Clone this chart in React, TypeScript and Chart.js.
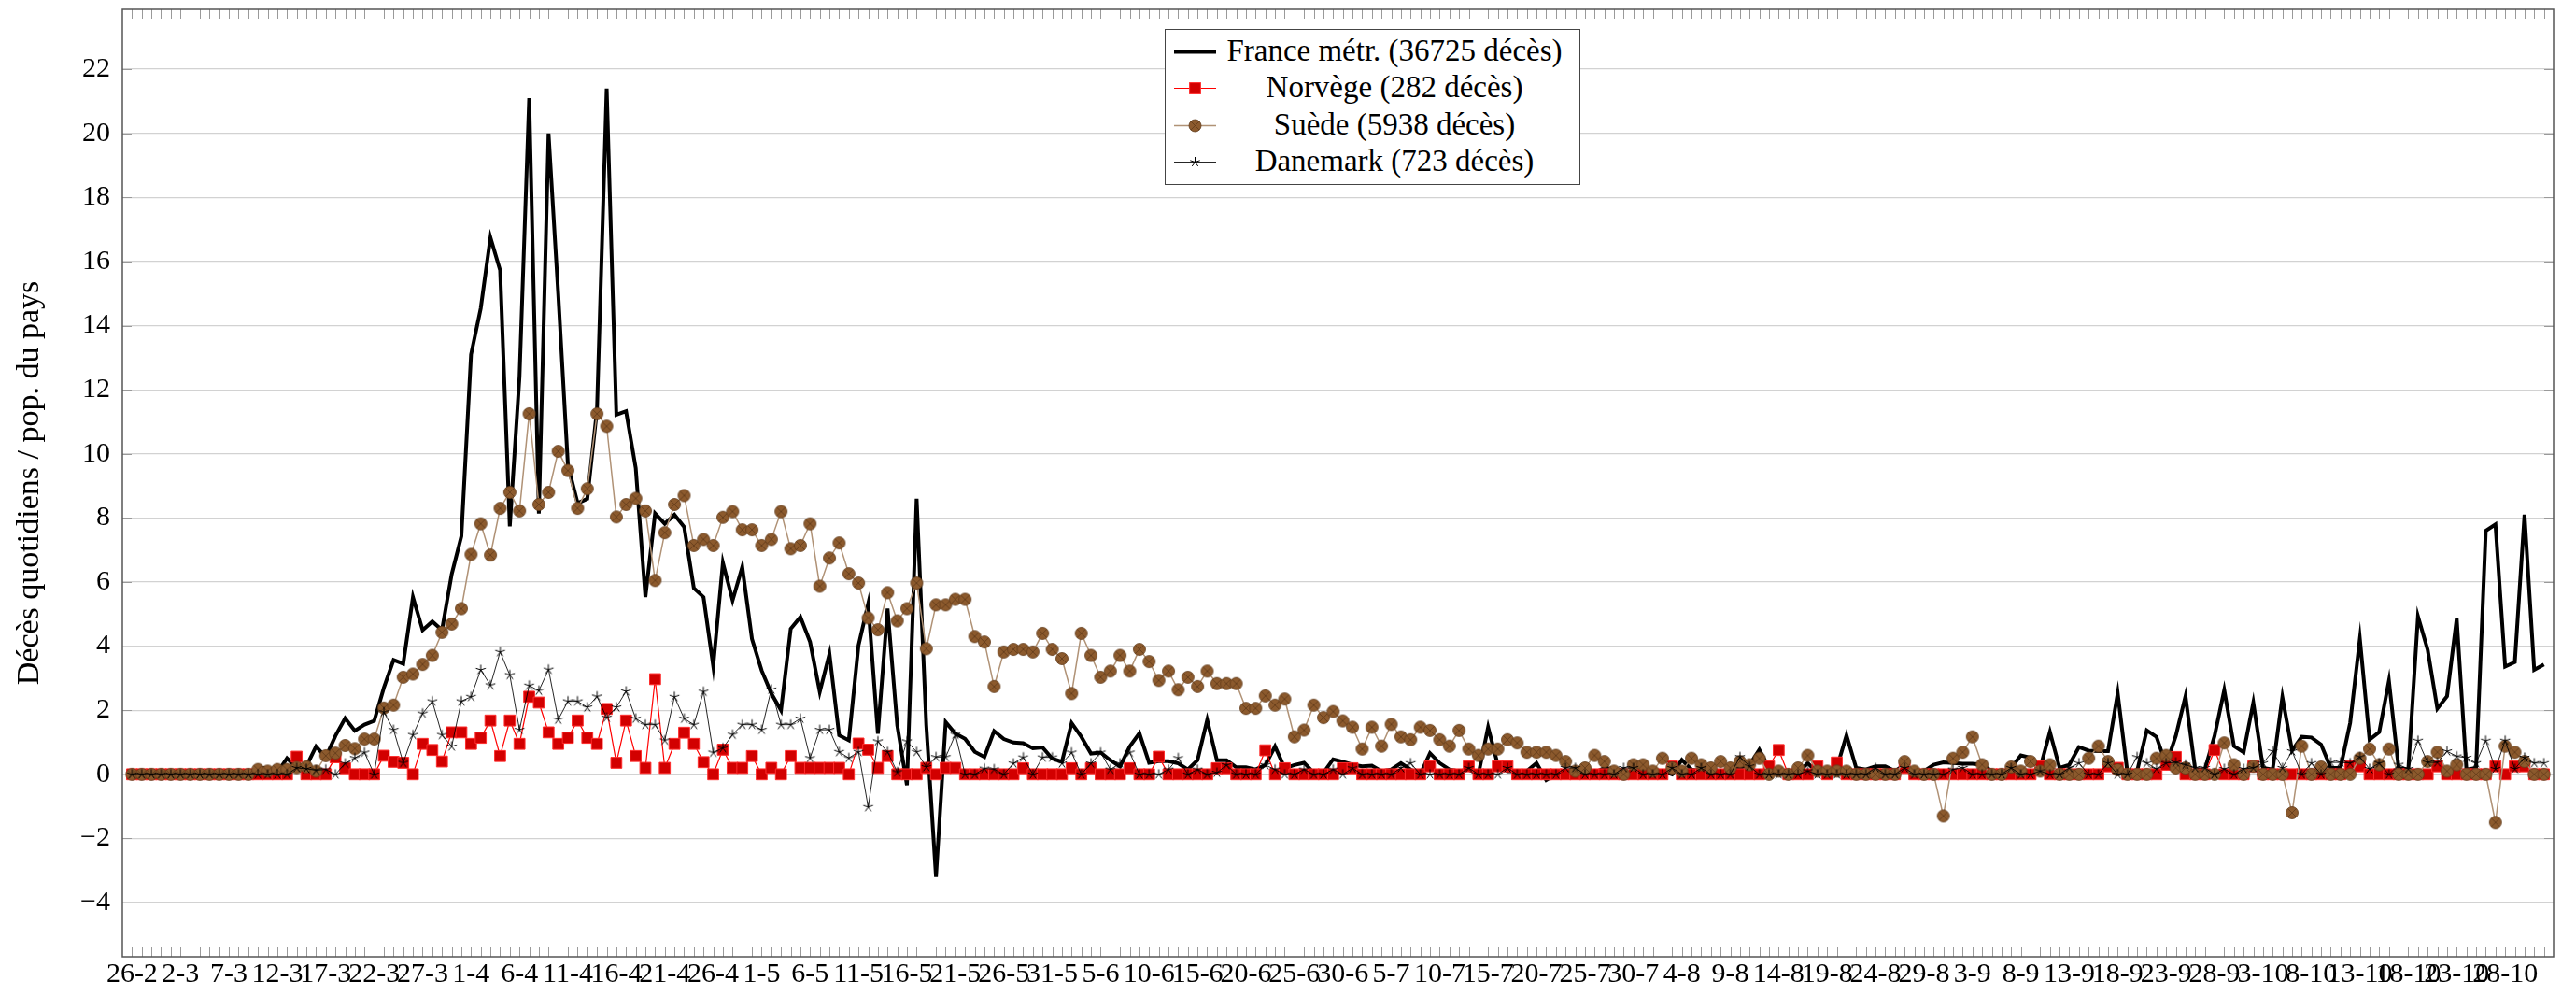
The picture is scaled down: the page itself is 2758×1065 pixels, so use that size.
import React, { useEffect, useRef } from 'react';
import { Chart, registerables } from 'chart.js';

Chart.register(...registerables);

// x tick labels, one every 5 days starting 26-2 (index 0)
const tickLabels = ['26-2','2-3','7-3','12-3','17-3','22-3','27-3','1-4','6-4','11-4','16-4','21-4','26-4','1-5','6-5','11-5','16-5','21-5','26-5','31-5','5-6','10-6','15-6','20-6','25-6','30-6','5-7','10-7','15-7','20-7','25-7','30-7','4-8','9-8','14-8','19-8','24-8','29-8','3-9','8-9','13-9','18-9','23-9','28-9','3-10','8-10','13-10','18-10','23-10','28-10'];

const yTicks = [-4, -2, 0, 2, 4, 6, 8, 10, 12, 14, 16, 18, 20, 22];

const france = [
  0,0,0,0,0,0,0,0,0,0,
  0,0,0,0.2,0.2,0.05,0.5,0.2,0.25,0.87,
  0.53,1.2,1.75,1.36,1.55,1.67,2.7,3.57,3.45,5.53,
  4.5,4.77,4.5,6.24,7.43,13.1,14.54,16.75,15.73,7.74,
  12.4,21.1,8.14,20.0,15.0,9.64,8.46,8.6,11.38,21.4,
  11.22,11.33,9.56,5.53,8.14,7.82,8.1,7.72,5.81,5.53,
  3.38,6.6,5.43,6.47,4.23,3.24,2.52,2.0,4.54,4.91,
  4.13,2.57,3.76,1.22,1.06,4.02,5.32,1.27,5.17,1.53,
  -0.34,8.6,1.53,-3.2,1.63,1.27,1.11,0.7,0.54,1.35,
  1.1,0.99,0.97,0.81,0.84,0.49,0.39,1.6,1.17,0.65,
  0.68,0.44,0.24,0.87,1.28,0.36,0.41,0.41,0.34,0.15,
  0.44,1.7,0.44,0.44,0.22,0.22,0.15,0.29,0.87,0.19,
  0.29,0.36,0.05,0.05,0.47,0.39,0.3,0.25,0.27,0.1,
  0.15,0.35,0.15,0,0.66,0.35,0.15,0.1,0.15,0,
  1.47,0.3,0.1,0.1,0.1,0.35,-0.18,0,0.1,0.15,
  0.1,0.05,0.2,0.2,0.1,0.1,0.15,0.05,0.1,0,
  0.45,0.15,0.1,0.1,0.1,0.1,0.2,0.3,0.77,0.2,
  0.1,0.05,0.05,0.35,0.05,0.1,0.2,1.22,0.2,0.15,
  0.25,0.25,0.1,0.3,0.1,0.1,0.3,0.37,0.35,0.33,
  0.33,0.3,0.1,0.05,0.2,0.59,0.52,0.2,1.32,0.2,
  0.3,0.85,0.74,0.72,0.72,2.53,0.05,0.1,1.37,1.17,
  0.3,1.2,2.44,0.15,0.15,1.2,2.63,0.88,0.69,2.24,
  0.2,0.15,2.41,0.74,1.17,1.15,0.93,0.2,0.2,1.61,
  4.23,1.08,1.32,2.92,0.2,0.15,4.93,3.89,2.05,2.44,
  4.86,0.15,0.2,7.6,7.8,3.36,3.5,8.1,3.26,3.43,
];

const norvege = [
  0,0,0,0,0,0,0,0,0,0,
  0,0,0,0,0,0,0,0.55,0,0,
  0,0.53,0.19,0,0,0,0.58,0.39,0.36,0,
  0.95,0.76,0.4,1.31,1.31,0.95,1.14,1.68,0.57,1.68,
  0.95,2.42,2.24,1.31,0.95,1.14,1.68,1.14,0.95,2.04,
  0.36,1.68,0.57,0.2,2.97,0.2,0.95,1.3,0.95,0.38,
  0,0.77,0.2,0.2,0.57,0,0.2,0,0.57,0.2,
  0.2,0.2,0.2,0.2,0,0.96,0.77,0.2,0.57,0,
  0,0,0.2,0,0.2,0.2,0,0,0,0,
  0,0,0.19,0,0,0,0,0.19,0,0.19,
  0,0,0,0.19,0,0,0.55,0,0,0,
  0,0,0.19,0.19,0,0,0,0.75,0,0.19,
  0,0,0,0,0,0.19,0.19,0,0,0,
  0,0,0,0,0.25,0,0,0,0.25,0,
  0,0.25,0.25,0,0,0,0,0,0,0,
  0,0,0,0,0,0,0,0,0,0.25,
  0,0,0,0,0,0,0,0,0,0.25,
  0.76,0,0,0,0.25,0,0.37,0,0,0,
  0,0,0,0.2,0,0,0,0,0,0,
  0,0,0,0,0,0,0,0.25,0,0,
  0,0,0,0,0.25,0.2,0,0,0,0,
  0.3,0.54,0,0,0,0.76,0,0,0,0.25,
  0,0,0,0,0,0,0,0,0,0.25,
  0.25,0,0,0,0,0,0,0,0.25,0,
  0,0,0,0,0.25,0,0.25,0.25,0,0,
];

const suede = [
  0,0,0,0,0,0,0,0,0,0,
  0,0,0,0.15,0.1,0.15,0.15,0.21,0.24,0.1,
  0.58,0.66,0.9,0.8,1.1,1.1,2.07,2.16,3.03,3.13,
  3.43,3.71,4.43,4.69,5.17,6.86,7.82,6.84,8.3,8.8,
  8.22,11.25,8.42,8.8,10.08,9.48,8.3,8.91,11.25,10.86,
  8.03,8.42,8.61,8.22,6.05,7.54,8.42,8.7,7.14,7.33,
  7.14,8.02,8.2,7.63,7.63,7.14,7.33,8.2,7.04,7.14,
  7.82,5.87,6.75,7.22,6.26,5.97,4.88,4.51,5.67,4.79,
  5.17,5.97,3.92,5.29,5.29,5.46,5.46,4.3,4.13,2.74,
  3.82,3.9,3.9,3.82,4.4,3.9,3.61,2.52,4.4,3.71,
  3.03,3.22,3.71,3.22,3.9,3.52,2.93,3.22,2.64,3.03,
  2.74,3.22,2.83,2.83,2.83,2.06,2.06,2.45,2.16,2.35,
  1.17,1.38,2.16,1.77,1.96,1.67,1.47,0.79,1.47,0.88,
  1.56,1.17,1.08,1.47,1.37,1.08,0.88,1.37,0.79,0.59,
  0.79,0.79,1.08,0.98,0.69,0.69,0.69,0.59,0.4,0.1,
  0.2,0.59,0.4,0.1,0,0.3,0.3,0.1,0.5,0.2,
  0.1,0.5,0.3,0.2,0.4,0.2,0.4,0.3,0.5,0,
  0.1,0,0.2,0.59,0.1,0.1,0.1,0.1,0,0,
  0,0,0,0.4,0.1,0,0,-1.3,0.5,0.69,
  1.17,0.3,0,0,0.23,0.1,0.4,0.1,0.3,0,
  0,0,0.5,0.88,0.4,0.14,0,0,0,0.5,
  0.59,0.2,0.2,0,0,0,0.98,0.3,0,0.25,
  0,0,0,-1.2,0.88,0,0.23,0,0,0,
  0.5,0.79,0.3,0.79,0,0,0,0.4,0.69,0.1,
  0.3,0,0,0,-1.5,0.88,0.69,0.4,0,0,
];

const danemark = [
  0,0,0,0,0,0,0,0,0,0,
  0,0,0,0,0,0,0,0.2,0.17,0.13,
  0.15,0,0.34,0.51,0.68,0,1.94,1.39,0.36,1.23,
  1.9,2.28,1.23,0.87,2.28,2.42,3.26,2.78,3.82,3.1,
  1.39,2.77,2.61,3.27,1.71,2.28,2.28,2.09,2.43,1.77,
  2.09,2.59,1.74,1.55,1.55,1.06,2.42,1.74,1.55,2.58,
  0.68,0.82,1.24,1.55,1.55,1.39,2.65,1.55,1.55,1.74,
  0.51,1.39,1.39,0.7,0.51,0.7,-1.02,1.03,0.7,0.07,
  1.03,0.7,0.23,0.54,0.54,1.24,0,0,0.18,0.16,
  0,0.34,0.53,0,0.53,0.53,0.34,0.68,0,0.34,
  0.68,0.15,0.34,0.68,0,0,0,0.15,0.51,0,
  0.15,0,0.05,0.29,0,0,0,0.29,0.15,0,
  0,0.15,0,0,0.15,0,0.19,0,0,0,
  0,0.2,0.35,0,0,0,0,0,0.2,0,
  0,0,0.2,0,0,0,0,0,0.2,0.2,
  0,0,0,0,0.2,0.2,0,0,0,0.2,
  0,0,0.2,0,0,0,0.54,0.25,0,0,
  0,0,0,0.1,0,0,0,0,0,0,
  0.2,0,0,0.2,0,0,0,0,0.15,0.2,
  0,0,0,0,0.2,0,0,0.1,0,0,
  0.2,0.35,0,0,0.35,0,0,0.54,0.35,0.17,
  0.35,0.37,0.3,0.2,0.2,0,0.17,0,0.17,0.2,
  0.35,0.72,0.2,0.72,0,0.35,0,0.37,0.37,0.35,
  0.54,0.17,0.35,0,0.3,0.17,1.05,0.37,0.37,0.72,
  0.56,0.52,0.35,1.05,0.17,1.05,0.17,0.52,0.35,0.35,
];

const FONT = '"Liberation Serif", "Times New Roman", serif';
const BROWN = 'rgb(140,90,45)';
const BROWN_DARK = 'rgb(95,58,25)';
const TAN = 'rgb(176,146,118)';
const RED_FILL = 'rgb(210,0,0)';
const RED_EDGE = 'rgb(255,45,45)';

function makeOtimes(): HTMLCanvasElement {
  const c = document.createElement('canvas');
  c.width = 16; c.height = 16;
  const g = c.getContext('2d')!;
  const r = 6.5;
  g.beginPath(); g.arc(8, 8, r, 0, Math.PI * 2);
  g.fillStyle = BROWN; g.fill();
  g.lineWidth = 0.8; g.strokeStyle = BROWN_DARK; g.stroke();
  const d = r * 0.7071;
  g.beginPath();
  g.moveTo(8 - d, 8 - d); g.lineTo(8 + d, 8 + d);
  g.moveTo(8 - d, 8 + d); g.lineTo(8 + d, 8 - d);
  g.stroke();
  return c;
}

function makeStar(): HTMLCanvasElement {
  const c = document.createElement('canvas');
  c.width = 14; c.height = 14;
  const g = c.getContext('2d')!;
  g.strokeStyle = '#000'; g.lineWidth = 1;
  g.beginPath();
  for (let k = 0; k < 5; k++) {
    const a = -Math.PI / 2 + (k * 2 * Math.PI) / 5;
    g.moveTo(7, 7);
    g.lineTo(7 + 5.5 * Math.cos(a), 7 + 5.5 * Math.sin(a));
  }
  g.stroke();
  return c;
}

const toXY = (arr: number[]) => arr.map((v, i) => ({ x: i, y: v }));

const framePlugin = {
  id: 'frame',
  afterDraw(chart: any) {
    const { ctx, chartArea, scales } = chart;
    const { left, right, top, bottom } = chartArea;
    const x = scales.x, y = scales.y;
    ctx.save();
    ctx.strokeStyle = '#9a9a9a';
    ctx.lineWidth = 1;
    ctx.beginPath();
    for (let i = 0; i < france.length; i++) {
      const px = Math.round(x.getPixelForValue(i)) + 0.5;
      ctx.moveTo(px, bottom); ctx.lineTo(px, bottom - 10);
      ctx.moveTo(px, top); ctx.lineTo(px, top + 10);
    }
    for (const v of yTicks) {
      const py = Math.round(y.getPixelForValue(v)) + 0.5;
      ctx.moveTo(left, py); ctx.lineTo(left + 10, py);
      ctx.moveTo(right, py); ctx.lineTo(right - 10, py);
    }
    ctx.stroke();
    ctx.strokeStyle = '#555';
    ctx.lineWidth = 1.5;
    ctx.strokeRect(left, top, right - left, bottom - top);
    ctx.restore();
  },
};

function LegendRow({ top, label, kind }: { top: number; label: string; kind: string }) {
  const cy = 21.5;
  let sym: React.ReactNode = null;
  if (kind === 'fr') {
    sym = <line x1={0} y1={cy} x2={45} y2={cy} stroke="#000" strokeWidth={4} />;
  } else if (kind === 'no') {
    sym = (
      <g>
        <line x1={0} y1={cy} x2={45} y2={cy} stroke="#ff0000" strokeWidth={1.2} />
        <rect x={22.5 - 5.9} y={cy - 5.9} width={11.8} height={11.8} fill={RED_FILL} stroke={RED_EDGE} strokeWidth={1} />
      </g>
    );
  } else if (kind === 'se') {
    const r = 6.5, d = r * 0.7071;
    sym = (
      <g>
        <line x1={0} y1={cy} x2={45} y2={cy} stroke={TAN} strokeWidth={1.5} />
        <circle cx={22.5} cy={cy} r={r} fill={BROWN} stroke={BROWN_DARK} strokeWidth={0.8} />
        <line x1={22.5 - d} y1={cy - d} x2={22.5 + d} y2={cy + d} stroke={BROWN_DARK} strokeWidth={0.8} />
        <line x1={22.5 - d} y1={cy + d} x2={22.5 + d} y2={cy - d} stroke={BROWN_DARK} strokeWidth={0.8} />
      </g>
    );
  } else {
    const arms = [0, 1, 2, 3, 4].map((k) => {
      const a = -Math.PI / 2 + (k * 2 * Math.PI) / 5;
      return <line key={k} x1={22.5} y1={cy} x2={22.5 + 5.5 * Math.cos(a)} y2={cy + 5.5 * Math.sin(a)} stroke="#000" strokeWidth={1} />;
    });
    sym = (
      <g>
        <line x1={0} y1={cy} x2={45} y2={cy} stroke="rgba(0,0,0,0.85)" strokeWidth={1} />
        {arms}
      </g>
    );
  }
  return (
    <div style={{ position: 'absolute', left: 0, top, width: '100%', height: 40 }}>
      <svg width={46} height={40} style={{ position: 'absolute', left: 9, top: 0 }}>{sym}</svg>
      <div style={{ position: 'absolute', left: 58, width: 374, top: 0, height: 40, lineHeight: '40px', textAlign: 'center', whiteSpace: 'nowrap' }}>{label}</div>
    </div>
  );
}

export default function App() {
  const ref = useRef<HTMLCanvasElement>(null);

  useEffect(() => {
    const canvas = ref.current!;
    const otimes = makeOtimes();
    const star = makeStar();
    const chart = new Chart(canvas, {
      type: 'line',
      data: {
        datasets: [
          {
            label: 'France métr. (36725 décès)',
            data: toXY(france),
            borderColor: '#000',
            borderWidth: 4,
            pointRadius: 0,
            borderJoinStyle: 'miter',
            order: 4,
          },
          {
            label: 'Norvège (282 décès)',
            data: toXY(norvege),
            borderColor: '#ff0000',
            borderWidth: 1.2,
            pointStyle: 'rect',
            pointRadius: 8.3,
            pointBackgroundColor: RED_FILL,
            pointBorderColor: RED_EDGE,
            pointBorderWidth: 1,
            order: 3,
          },
          {
            label: 'Suède (5938 décès)',
            data: toXY(suede),
            borderColor: TAN,
            borderWidth: 1.5,
            pointStyle: otimes as any,
            pointRadius: 6,
            order: 2,
          },
          {
            label: 'Danemark (723 décès)',
            data: toXY(danemark),
            borderColor: 'rgba(0,0,0,0.85)',
            borderWidth: 1,
            pointStyle: star as any,
            pointRadius: 6,
            order: 1,
          },
        ] as any,
      },
      options: {
        responsive: false,
        animation: false,
        devicePixelRatio: 1,
        layout: { padding: { left: 0, right: 24, top: 10, bottom: 0 } },
        elements: { line: { tension: 0 } },
        plugins: { legend: { display: false }, tooltip: { enabled: false } },
        scales: {
          x: {
            type: 'linear',
            min: -1,
            max: 250,
            afterFit: (s: any) => {
              s.height = 41;
              s.paddingLeft = 0; s.paddingRight = 0; s.paddingTop = 0; s.paddingBottom = 0;
            },
            afterBuildTicks: (s: any) => { s.ticks = tickLabels.map((_, i) => ({ value: i * 5 })); },
            ticks: {
              autoSkip: false,
              maxRotation: 0,
              minRotation: 0,
              padding: 4,
              color: '#000',
              font: { family: FONT, size: 30, lineHeight: 1 },
              callback: (v: any) => tickLabels[Math.round(Number(v) / 5)] ?? '',
            },
            grid: { display: false, drawTicks: false },
            border: { display: false },
          },
          y: {
            type: 'linear',
            min: -5.69,
            max: 23.87,
            afterFit: (s: any) => {
              s.width = 131;
              s.paddingLeft = 0; s.paddingRight = 0; s.paddingTop = 0; s.paddingBottom = 0;
            },
            afterBuildTicks: (s: any) => { s.ticks = yTicks.map((v) => ({ value: v })); },
            ticks: {
              padding: 13,
              color: '#000',
              font: { family: FONT, size: 30 },
              callback: (v: any) => (Number(v) < 0 ? '\u2212' + Math.abs(Number(v)) : String(v)),
            },
            grid: { color: '#d2d2d2', lineWidth: 1.3, drawTicks: false },
            border: { display: false },
            title: {
              display: true,
              text: 'Décès quotidiens / pop. du pays',
              color: '#000',
              font: { family: FONT, size: 34 },
              padding: { top: 12, bottom: 0 },
            },
          },
        },
      } as any,
      plugins: [framePlugin],
    });
    return () => chart.destroy();
  }, []);

  return (
    <div style={{ position: 'absolute', left: 0, top: 0, width: 2758, height: 1065, background: '#fff', overflow: 'hidden' }}>
      <canvas ref={ref} width={2758} height={1065} style={{ display: 'block', width: 2758, height: 1065 }} />
      <div
        style={{
          position: 'absolute', left: 1247, top: 31, width: 445, height: 167,
          border: '1.5px solid #444', background: '#fff', boxSizing: 'border-box',
          fontFamily: FONT, fontSize: 33, color: '#000',
        }}
      >
        <LegendRow top={1.5} label="France métr. (36725 décès)" kind="fr" />
        <LegendRow top={40.8} label="Norvège (282 décès)" kind="no" />
        <LegendRow top={80.8} label="Suède (5938 décès)" kind="se" />
        <LegendRow top={119.8} label="Danemark (723 décès)" kind="de" />
      </div>
    </div>
  );
}
